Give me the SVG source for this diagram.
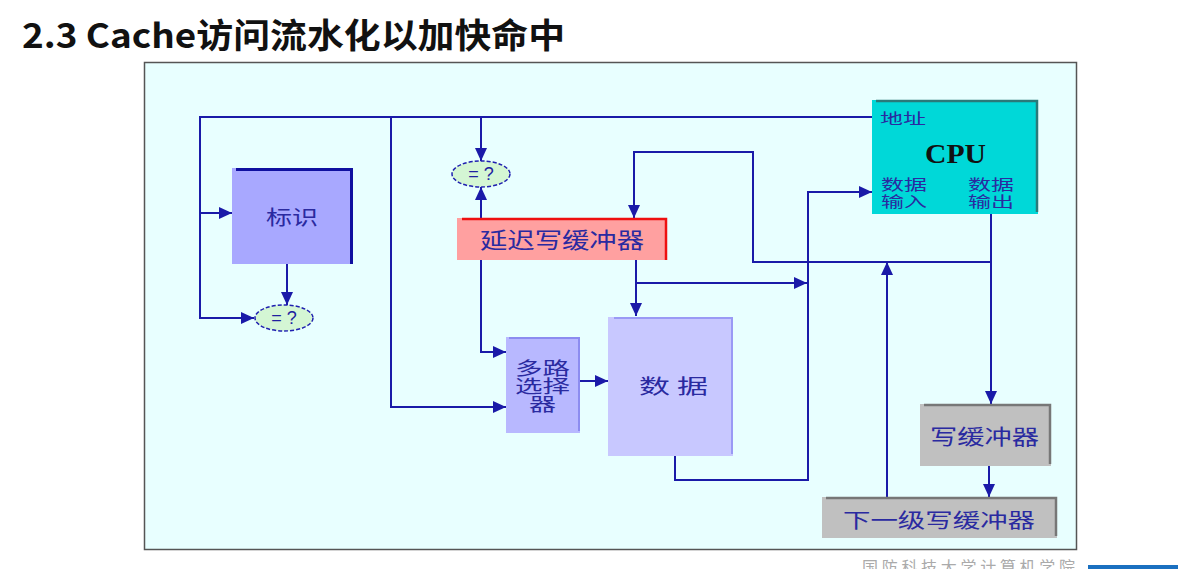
<svg xmlns="http://www.w3.org/2000/svg" width="1178" height="569" viewBox="0 0 1178 569">
<defs>
<marker id="arr" markerUnits="userSpaceOnUse" markerWidth="14" markerHeight="12" refX="13" refY="6" orient="auto">
<path d="M0,0 L13,6 L0,12 Z" fill="#1a1aa8"/>
</marker>
<style>
.ln{fill:none;stroke:#1a1aa8;stroke-width:2}
.cjk{font-family:"Noto Sans CJK SC","Noto Sans",sans-serif;fill:#2a2aa0}
.cmp{fill:#d4f6d4;stroke:#2020b0;stroke-width:1.5;stroke-dasharray:4 2}
.cmpt{font-family:"Liberation Sans",Arial,sans-serif;font-size:18px;fill:#2020a0;text-anchor:middle}
</style>
</defs>
<rect width="1178" height="569" fill="#ffffff"/>
<text x="22" y="48" font-family="'Noto Sans CJK SC','Noto Sans',sans-serif" font-weight="bold" font-size="34" fill="#111" textLength="543" lengthAdjust="spacingAndGlyphs">2.3 Cache访问流水化以加快命中</text>
<rect x="144.5" y="62.5" width="932" height="487" fill="#e8ffff" stroke="#555" stroke-width="1.5"/>

<g id="connectors">
<path class="ln" d="M872,117 H200 V318 H254" marker-end="url(#arr)"/>
<path class="ln" d="M200,213 H232" marker-end="url(#arr)"/>
<path class="ln" d="M391,117 V407 H506" marker-end="url(#arr)"/>
<path class="ln" d="M481,117 V161" marker-end="url(#arr)"/>
<path class="ln" d="M481,218 V187" marker-end="url(#arr)"/>
<path class="ln" d="M481,260 V352 H506" marker-end="url(#arr)"/>
<path class="ln" d="M287,264 V305" marker-end="url(#arr)"/>
<path class="ln" d="M580,381 H608" marker-end="url(#arr)"/>
<path class="ln" d="M636,260 V316" marker-end="url(#arr)"/>
<path class="ln" d="M636,283 H807" marker-end="url(#arr)"/>
<path class="ln" d="M675,456 V480 H808 V192 H872" marker-end="url(#arr)"/>
<path class="ln" d="M991,214 V404" marker-end="url(#arr)"/>
<path class="ln" d="M991,262 H753 V152 H634 V218" marker-end="url(#arr)"/>
<path class="ln" d="M887,497 V262" marker-end="url(#arr)"/>
<path class="ln" d="M989,466 V497" marker-end="url(#arr)"/>
</g>

<g id="tag">
<rect x="232" y="168" width="121" height="96" fill="#a8a8ff"/>
<path d="M236,169.5 H351.5 V264" fill="none" stroke="#1010a0" stroke-width="3"/>
<text class="cjk" x="266" y="225" font-size="20" textLength="52" lengthAdjust="spacingAndGlyphs">标识</text>
</g>

<g id="cmp1">
<ellipse class="cmp" cx="284" cy="318" rx="29" ry="13"/>
<text class="cmpt" x="284" y="324">= ?</text>
</g>

<g id="cmp2">
<ellipse class="cmp" cx="481" cy="174" rx="29" ry="13"/>
<text class="cmpt" x="481" y="180">= ?</text>
</g>

<g id="delayed-write-buffer">
<rect x="457" y="218" width="210" height="42" fill="#ffa0a0"/>
<path d="M462,219 H666 V260" fill="none" stroke="#ee1010" stroke-width="2.5"/>
<text class="cjk" x="480" y="248" font-size="22" textLength="164" lengthAdjust="spacingAndGlyphs">延迟写缓冲器</text>
</g>

<g id="mux">
<rect x="506" y="337" width="74" height="96" fill="#b8b8ff"/>
<path d="M509,338 H579 V431" fill="none" stroke="#8c8cf0" stroke-width="2"/>
<text class="cjk" x="515" y="375" font-size="18" textLength="55" lengthAdjust="spacingAndGlyphs">多路</text>
<text class="cjk" x="515" y="393" font-size="18" textLength="55" lengthAdjust="spacingAndGlyphs">选择</text>
<text class="cjk" x="529" y="411" font-size="18" textLength="27" lengthAdjust="spacingAndGlyphs">器</text>
</g>

<g id="data">
<rect x="608" y="317" width="125" height="139" fill="#c8c8ff"/>
<path d="M614,318 H732 V454" fill="none" stroke="#9a9af5" stroke-width="2"/>
<text class="cjk" x="639" y="394" font-size="20" textLength="69" lengthAdjust="spacingAndGlyphs">数 据</text>
</g>

<g id="cpu">
<rect x="872" y="100" width="166" height="114" fill="#00d8d8"/>
<path d="M876,101 H1037 V212" fill="none" stroke="#2a7a7a" stroke-width="2.5"/>
<text class="cjk" x="880" y="124" font-size="15" fill="#1a1ac0" textLength="46" lengthAdjust="spacingAndGlyphs">地址</text>
<text x="925" y="163" font-family="'Liberation Serif','Times New Roman',serif" font-weight="bold" font-size="27" fill="#111" textLength="61" lengthAdjust="spacingAndGlyphs">CPU</text>
<text class="cjk" x="881" y="190" font-size="14.5" fill="#1a1ac0" textLength="46" lengthAdjust="spacingAndGlyphs">数据</text>
<text class="cjk" x="881" y="207" font-size="14.5" fill="#1a1ac0" textLength="46" lengthAdjust="spacingAndGlyphs">输入</text>
<text class="cjk" x="968" y="190" font-size="14.5" fill="#1a1ac0" textLength="46" lengthAdjust="spacingAndGlyphs">数据</text>
<text class="cjk" x="968" y="207" font-size="14.5" fill="#1a1ac0" textLength="46" lengthAdjust="spacingAndGlyphs">输出</text>
</g>

<g id="write-buffer">
<rect x="920" y="404" width="131" height="62" fill="#c0c0c0"/>
<path d="M924,405 H1050 V464" fill="none" stroke="#777" stroke-width="2.5"/>
<text class="cjk" x="930" y="444" font-size="21" textLength="109" lengthAdjust="spacingAndGlyphs">写缓冲器</text>
</g>

<g id="next-write-buffer">
<rect x="822" y="497" width="235" height="41" fill="#c0c0c0"/>
<path d="M826,498 H1056 V536" fill="none" stroke="#777" stroke-width="2.5"/>
<text class="cjk" x="843" y="528" font-size="20" textLength="192" lengthAdjust="spacingAndGlyphs">下一级写缓冲器</text>
</g>

<text x="862" y="573" font-family="'Noto Sans CJK SC',sans-serif" font-size="16" fill="#aaaaaa" textLength="213" lengthAdjust="spacing">国防科技大学计算机学院</text>
<rect x="1088" y="565" width="90" height="4" fill="#1a70c0"/>
</svg>
